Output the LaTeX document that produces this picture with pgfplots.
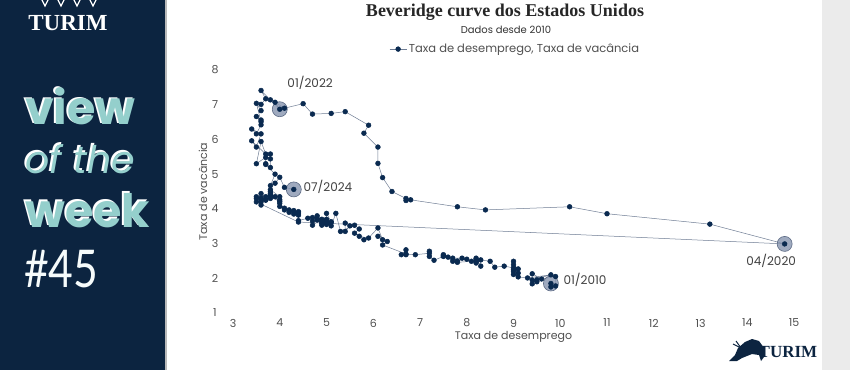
\documentclass[border=0pt]{standalone}
\usepackage{pgfplots}
\pgfplotsset{compat=1.18}
\usepackage{fontspec}
\setmainfont{Poppins}
\newfontfamily\serif{Liberation Serif}
\newfontfamily\pop{Poppins}
\newfontfamily\lato{Lato}
\definecolor{navy}{HTML}{0C2440}
\definecolor{teal}{HTML}{94CFCC}
\definecolor{mk}{HTML}{0A2A50}
\definecolor{ln}{HTML}{6F7D94}
\definecolor{cf}{HTML}{8795B0}
\definecolor{cd}{HTML}{5D6B85}
\definecolor{strip}{HTML}{EBEBEB}
\definecolor{tl}{HTML}{505050}

\pgfplotstableread{
u v
9.8 1.85
9.8 1.75
9.9 1.78
9.9 2.05
9.6 1.98
9.4 2.13
9.4 1.84
9.5 1.96
9.5 1.90
9.4 1.95
9.8 2.10
9.3 2.01
9.1 2.04
9.0 2.11
9.0 2.20
9.1 2.15
9.0 2.39
9.1 2.27
9.0 2.25
9.0 2.49
9.0 2.30
8.8 2.35
8.6 2.32
8.5 2.49
8.3 2.53
8.3 2.35
8.2 2.58
8.2 2.44
8.2 2.50
8.2 2.55
8.2 2.48
8.1 2.49
7.8 2.46
7.8 2.50
7.7 2.58
7.9 2.58
8.0 2.55
7.7 2.49
7.5 2.68
7.6 2.61
7.5 2.65
7.5 2.63
7.3 2.52
7.2 2.63
7.2 2.78
7.2 2.72
6.9 2.68
6.7 2.68
6.6 2.68
6.7 2.82
6.7 2.70
6.2 2.96
6.3 3.06
6.1 3.21
6.2 3.11
6.1 3.45
5.9 3.16
5.7 3.21
5.8 3.11
5.6 3.30
5.7 3.42
5.5 3.51
5.4 3.35
5.4 3.59
5.6 3.53
5.3 3.35
5.2 3.87
5.1 3.51
5.0 3.68
5.0 3.87
5.1 3.63
5.0 3.60
4.8 3.68
4.9 3.53
5.0 3.70
5.1 3.60
4.8 3.80
4.9 3.63
4.8 3.72
4.9 3.58
5.0 3.55
4.9 3.70
4.7 3.53
4.7 3.75
4.7 3.65
4.6 3.73
4.4 3.66
4.4 3.82
4.4 3.92
4.3 3.92
4.3 3.85
4.4 3.88
4.3 3.95
4.2 3.97
4.2 3.90
4.1 3.97
4.0 4.07
4.1 4.02
4.0 4.16
4.0 4.21
3.8 4.35
4.0 4.26
3.8 4.40
3.8 4.50
3.7 4.26
3.8 4.30
3.8 4.45
3.9 4.35
4.0 4.35
3.8 4.55
3.8 4.40
3.7 4.35
3.6 4.44
3.6 4.30
3.7 4.25
3.6 4.30
3.5 4.35
3.6 4.20
3.6 4.25
3.6 4.11
3.5 4.30
3.5 4.20
4.4 3.62
14.8 2.99
13.2 3.56
11.0 3.86
10.2 4.06
8.4 3.97
7.8 4.06
6.8 4.26
6.7 4.24
6.7 4.30
6.4 4.50
6.2 4.90
6.1 5.31
6.1 5.78
5.8 6.18
5.9 6.41
5.4 6.80
5.1 6.75
4.7 6.73
4.5 7.03
4.1 6.90
3.9 7.07
4.0 6.87
3.8 7.14
3.6 7.41
3.7 7.17
3.6 7.01
3.6 6.83
3.5 7.04
3.6 6.51
3.5 6.66
3.6 6.56
3.6 6.42
3.5 6.16
3.4 6.30
3.6 6.16
3.5 5.78
3.4 5.96
3.7 5.58
3.6 5.94
3.5 5.30
3.8 5.58
3.8 5.44
3.8 5.19
3.7 5.30
3.7 5.48
3.7 5.28
3.9 5.00
3.8 4.67
3.9 4.74
4.0 4.91
4.1 4.62
4.3 4.56
}\beveridge

\pgfplotstableread{
u v
9.8 1.85
4.0 6.87
14.8 2.99
4.3 4.56
}\highlights

\begin{document}
\begin{tikzpicture}[x=1pt,y=1pt]
\useasboundingbox (0,0) rectangle (850,370);
\fill[white] (0,0) rectangle (850,370);
\fill[navy] (0,0) rectangle (165,370);
\fill[gray!55] (165,0) rectangle (167,370);
\fill[strip] (822,0) rectangle (850,370);
% left panel
\node[font=\serif\bfseries\fontsize{23}{23}\selectfont, white] at (68,347) {TURIM};
\foreach \xx in {42,58,74,90}{\draw[white,line width=1.2pt] (\xx,370) -- (\xx+3,364) -- (\xx+6,370);}
\node[anchor=base west, font=\pop\bfseries\fontsize{46}{46}\selectfont, white, inner sep=0] at (23,247) {view};
\node[anchor=base west, font=\pop\bfseries\fontsize{46}{46}\selectfont, teal, inner sep=0] at (25,245) {view};
\node[anchor=base west, font=\pop\itshape\fontsize{38}{38}\selectfont, white, inner sep=0] at (23,199) {of the};
\node[anchor=base west, font=\pop\itshape\fontsize{38}{38}\selectfont, teal, inner sep=0] at (25,197) {of the};
\node[anchor=base west, font=\pop\bfseries\fontsize{46}{46}\selectfont, white, inner sep=0] at (23,145) {week};
\node[anchor=base west, font=\pop\bfseries\fontsize{46}{46}\selectfont, teal, inner sep=0] at (25,143) {week};
\node[anchor=base west, font=\lato\fontsize{52}{52}\selectfont, white!92!teal, inner sep=0, xscale=0.82] at (24,83) {\#45};
% titles
\node[font=\serif\bfseries\fontsize{18}{18}\selectfont, black!85] at (505,358) {Beveridge curve dos Estados Unidos};
\node[font=\pop\fontsize{10}{10}\selectfont, black!80] at (506,340) {Dados desde 2010};
% bottom-right logo
\fill[navy] (729,9) -- (735,15) -- (738,22) -- (745,28) -- (752,31) -- (759,29) -- (764,22) -- (764,13) -- (761,9) -- (759,15) -- (752,16) -- (747,14) -- (742,12) -- (737,9) -- cycle;
\draw[navy,line width=1pt] (741,22) -- (736,29);
\draw[navy,line width=1pt] (741,22) -- (733,26);
\node[font=\serif\bfseries\fontsize{17}{17}\selectfont, navy] at (788,18) {TURIM};
\begin{axis}[at={(233pt,57pt)}, anchor=south west, scale only axis,
  width=561pt, height=243pt,
  xmin=3, xmax=15, ymin=1, ymax=8,
  xtick={3,4,...,15}, ytick={1,2,...,8},
  axis line style={draw=none}, tick style={draw=none},
  /pgf/number format/assume math mode=true,
  tick label style={font=\pop\fontsize{11}{11}\selectfont, text=tl},
  xticklabel style={anchor=center, yshift=-10pt},
  yticklabel style={anchor=center, xshift=-18pt},
  xlabel={Taxa de desemprego}, ylabel={Taxa de vacância},
  label style={font=\pop\fontsize{11}{11}\selectfont, text=tl},
  xlabel style={at={(axis description cs:0.5,-0.099)}, anchor=center},
  ylabel style={at={(axis description cs:-0.0535,0.5)}, anchor=center},
  legend style={at={(0.503,1.086)}, anchor=center, draw=none, fill=none,
    font=\pop\fontsize{11.5}{11.5}\selectfont, text=tl, legend cell align=left},
  clip=false]
\addplot[only marks, mark=*, mark size=7.5pt, mark options={fill=cf, fill opacity=0.8, draw=cd, line width=0.6pt}, forget plot] table[x=u,y=v] {\highlights};
\addplot[color=ln, line width=0.5pt, mark=*, mark size=2.4pt, mark options={fill=mk, draw=mk}] table[x=u,y=v] {\beveridge};
\addlegendentry{Taxa de desemprego, Taxa de vacância}
\node[font=\pop\fontsize{12}{12}\selectfont, text=black!75] at (axis cs:4.65,7.63) {01/2022};
\node[font=\pop\fontsize{12}{12}\selectfont, text=black!75] at (axis cs:5.03,4.63) {07/2024};
\node[font=\pop\fontsize{12}{12}\selectfont, text=black!75] at (axis cs:10.53,1.95) {01/2010};
\node[font=\pop\fontsize{12}{12}\selectfont, text=black!75] at (axis cs:14.51,2.50) {04/2020};
\end{axis}
\end{tikzpicture}
\end{document}
